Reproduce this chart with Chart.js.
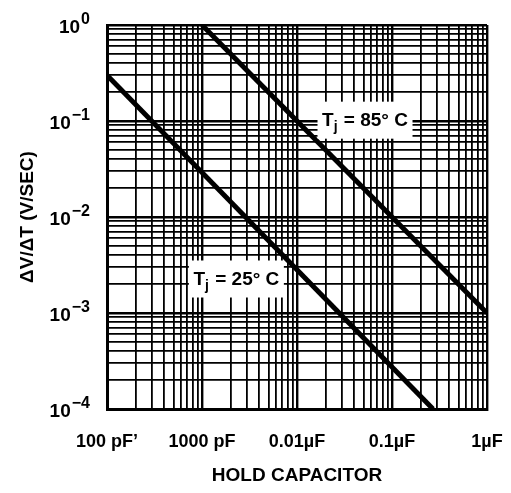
<!DOCTYPE html>
<html><head><meta charset="utf-8">
<script src="https://cdn.jsdelivr.net/npm/chart.js@4.4.1/dist/chart.umd.min.js"></script>
<style>html,body{margin:0;padding:0;background:#fff}#wrap{width:511px;height:493px}</style>
</head><body><div id="wrap"><canvas id="c" width="511" height="493"></canvas></div>
<script>
// ---- data ----
const capacitorTicks = [1e-10, 1e-9, 1e-8, 1e-7, 1e-6];
const capacitorTickLabels = ['100 pF\u2019', '1000 pF', '0.01\u00B5F', '0.1\u00B5F', '1\u00B5F'];
const rateTicks = [1e0, 1e-1, 1e-2, 1e-3, 1e-4];
const rateExponents = ['0', '\u22121', '\u22122', '\u22123', '\u22124'];
const gridMantissas = [1, 2, 3, 4, 5, 6, 7, 8, 9];
const seriesNames = ['Tj = 25\u00B0 C', 'Tj = 85\u00B0 C'];
const cap25 = [1e-10, 2.7e-7];
const rate25 = [0.3, 1e-4];
const cap85 = [1e-9, 1e-6];
const rate85 = [1, 1e-3];
const labelCap = [2.3e-9, 5.2e-8];
const labelRate = [2.26e-3, 0.102];
const xTitle = 'HOLD CAPACITOR';
const yTitle = '\u0394V/\u0394T (V/SEC)';

const FONT = '"Liberation Sans", Arial, sans-serif';

function gridValues(decades) {
  const out = [];
  const sorted = decades.slice().sort((a, b) => a - b);
  for (let i = 0; i < sorted.length; i++) {
    if (i === sorted.length - 1) { out.push({ value: sorted[i], major: true }); break; }
    gridMantissas.forEach((m, k) => out.push({ value: sorted[i] * m, major: k === 0 }));
  }
  return out;
}
function isSame(a, b) { return Math.abs(Math.log10(a) - Math.log10(b)) < 1e-6; }

const labelsPlugin = {
  id: 'customLabels',
  afterDatasetsDraw(chart) {
    const { ctx, scales: { x, y }, chartArea } = chart;
    ctx.save();
    // curve labels
    seriesNames.forEach((name, i) => {
      const cx = x.getPixelForValue(labelCap[i]);
      const cy = y.getPixelForValue(labelRate[i]);
      const bw = 95, bh = 37;
      ctx.fillStyle = '#fff';
      ctx.fillRect(cx - bw / 2, cy - bh / 2, bw, bh);
      const p1 = name.charAt(0), p2 = name.charAt(1), p3 = name.slice(2);
      const mainF = 'bold 19px ' + FONT, subF = 'bold 14px ' + FONT;
      ctx.font = mainF; const w1 = ctx.measureText(p1).width, w3 = ctx.measureText(p3).width;
      ctx.font = subF; const w2 = ctx.measureText(p2).width;
      let sx = cx - (w1 + w2 + w3 + 1) / 2;
      ctx.fillStyle = '#000'; ctx.textAlign = 'left'; ctx.textBaseline = 'alphabetic';
      ctx.font = mainF; ctx.fillText(p1, sx, cy + 6); sx += w1;
      ctx.font = subF; ctx.fillText(p2, sx, cy + 11); sx += w2 + 1;
      ctx.font = mainF; ctx.fillText(p3, sx, cy + 6);
    });
    // y tick labels with superscripts
    const rx = chartArea.left - 17;
    rateTicks.forEach((v, i) => {
      const py = y.getPixelForValue(v);
      ctx.textAlign = 'right'; ctx.textBaseline = 'alphabetic'; ctx.fillStyle = '#000';
      ctx.font = 'bold 16px ' + FONT;
      const ew = ctx.measureText(rateExponents[i]).width;
      ctx.fillText(rateExponents[i], rx, py - 1);
      ctx.font = 'bold 19px ' + FONT;
      ctx.fillText('10', rx - ew - 1, py + 8);
    });
    ctx.restore();
  }
};

new Chart(document.getElementById('c'), {
  type: 'scatter',
  data: {
    datasets: [
      { label: seriesNames[0], data: cap25.map((c, i) => ({ x: c, y: rate25[i] })), showLine: true,
        borderColor: '#000', borderWidth: 5, pointRadius: 0, borderCapStyle: 'butt' },
      { label: seriesNames[1], data: cap85.map((c, i) => ({ x: c, y: rate85[i] })), showLine: true,
        borderColor: '#000', borderWidth: 5, pointRadius: 0, borderCapStyle: 'butt' }
    ]
  },
  options: {
    responsive: false,
    animation: false,
    events: [],
    layout: { padding: { top: 25, right: 24, left: 0, bottom: 0 } },
    plugins: { legend: { display: false }, tooltip: { enabled: false } },
    scales: {
      x: {
        type: 'logarithmic',
        min: capacitorTicks[0], max: capacitorTicks[capacitorTicks.length - 1],
        afterBuildTicks: s => { s.ticks = gridValues(capacitorTicks); },
        afterFit: s => { s.height = 84; s.paddingLeft = 0; s.paddingRight = 0; },
        grid: { color: '#000', lineWidth: c => (c.tick && c.tick.major ? 2.4 : 1.8), drawTicks: false },
        border: { display: true, color: '#000', width: 3 },
        ticks: {
          autoSkip: false, maxRotation: 0, minRotation: 0, padding: 22, color: '#000',
          font: { family: FONT, size: 18, weight: 'bold' },
          callback: (v) => { const i = capacitorTicks.findIndex(t => isSame(t, v)); return i >= 0 ? capacitorTickLabels[i] : ''; }
        },
        title: { display: true, text: xTitle, color: '#000', font: { family: FONT, size: 19, weight: 'bold' },
          padding: { top: 0, bottom: 6 } }
      },
      y: {
        type: 'logarithmic',
        min: rateTicks[rateTicks.length - 1], max: rateTicks[0],
        afterBuildTicks: s => { s.ticks = gridValues(rateTicks); },
        afterFit: s => { s.width = 107; s.paddingTop = 0; s.paddingBottom = 0; },
        grid: { color: '#000', lineWidth: c => (c.tick && c.tick.major ? 2.4 : 1.8), drawTicks: false },
        border: { display: true, color: '#000', width: 3 },
        ticks: { display: false },
        title: { display: true, text: yTitle, color: '#000', font: { family: FONT, size: 19, weight: 'bold' },
          padding: { top: 16, bottom: 0 } }
      }
    }
  },
  plugins: [labelsPlugin]
});
</script>
</body></html>
